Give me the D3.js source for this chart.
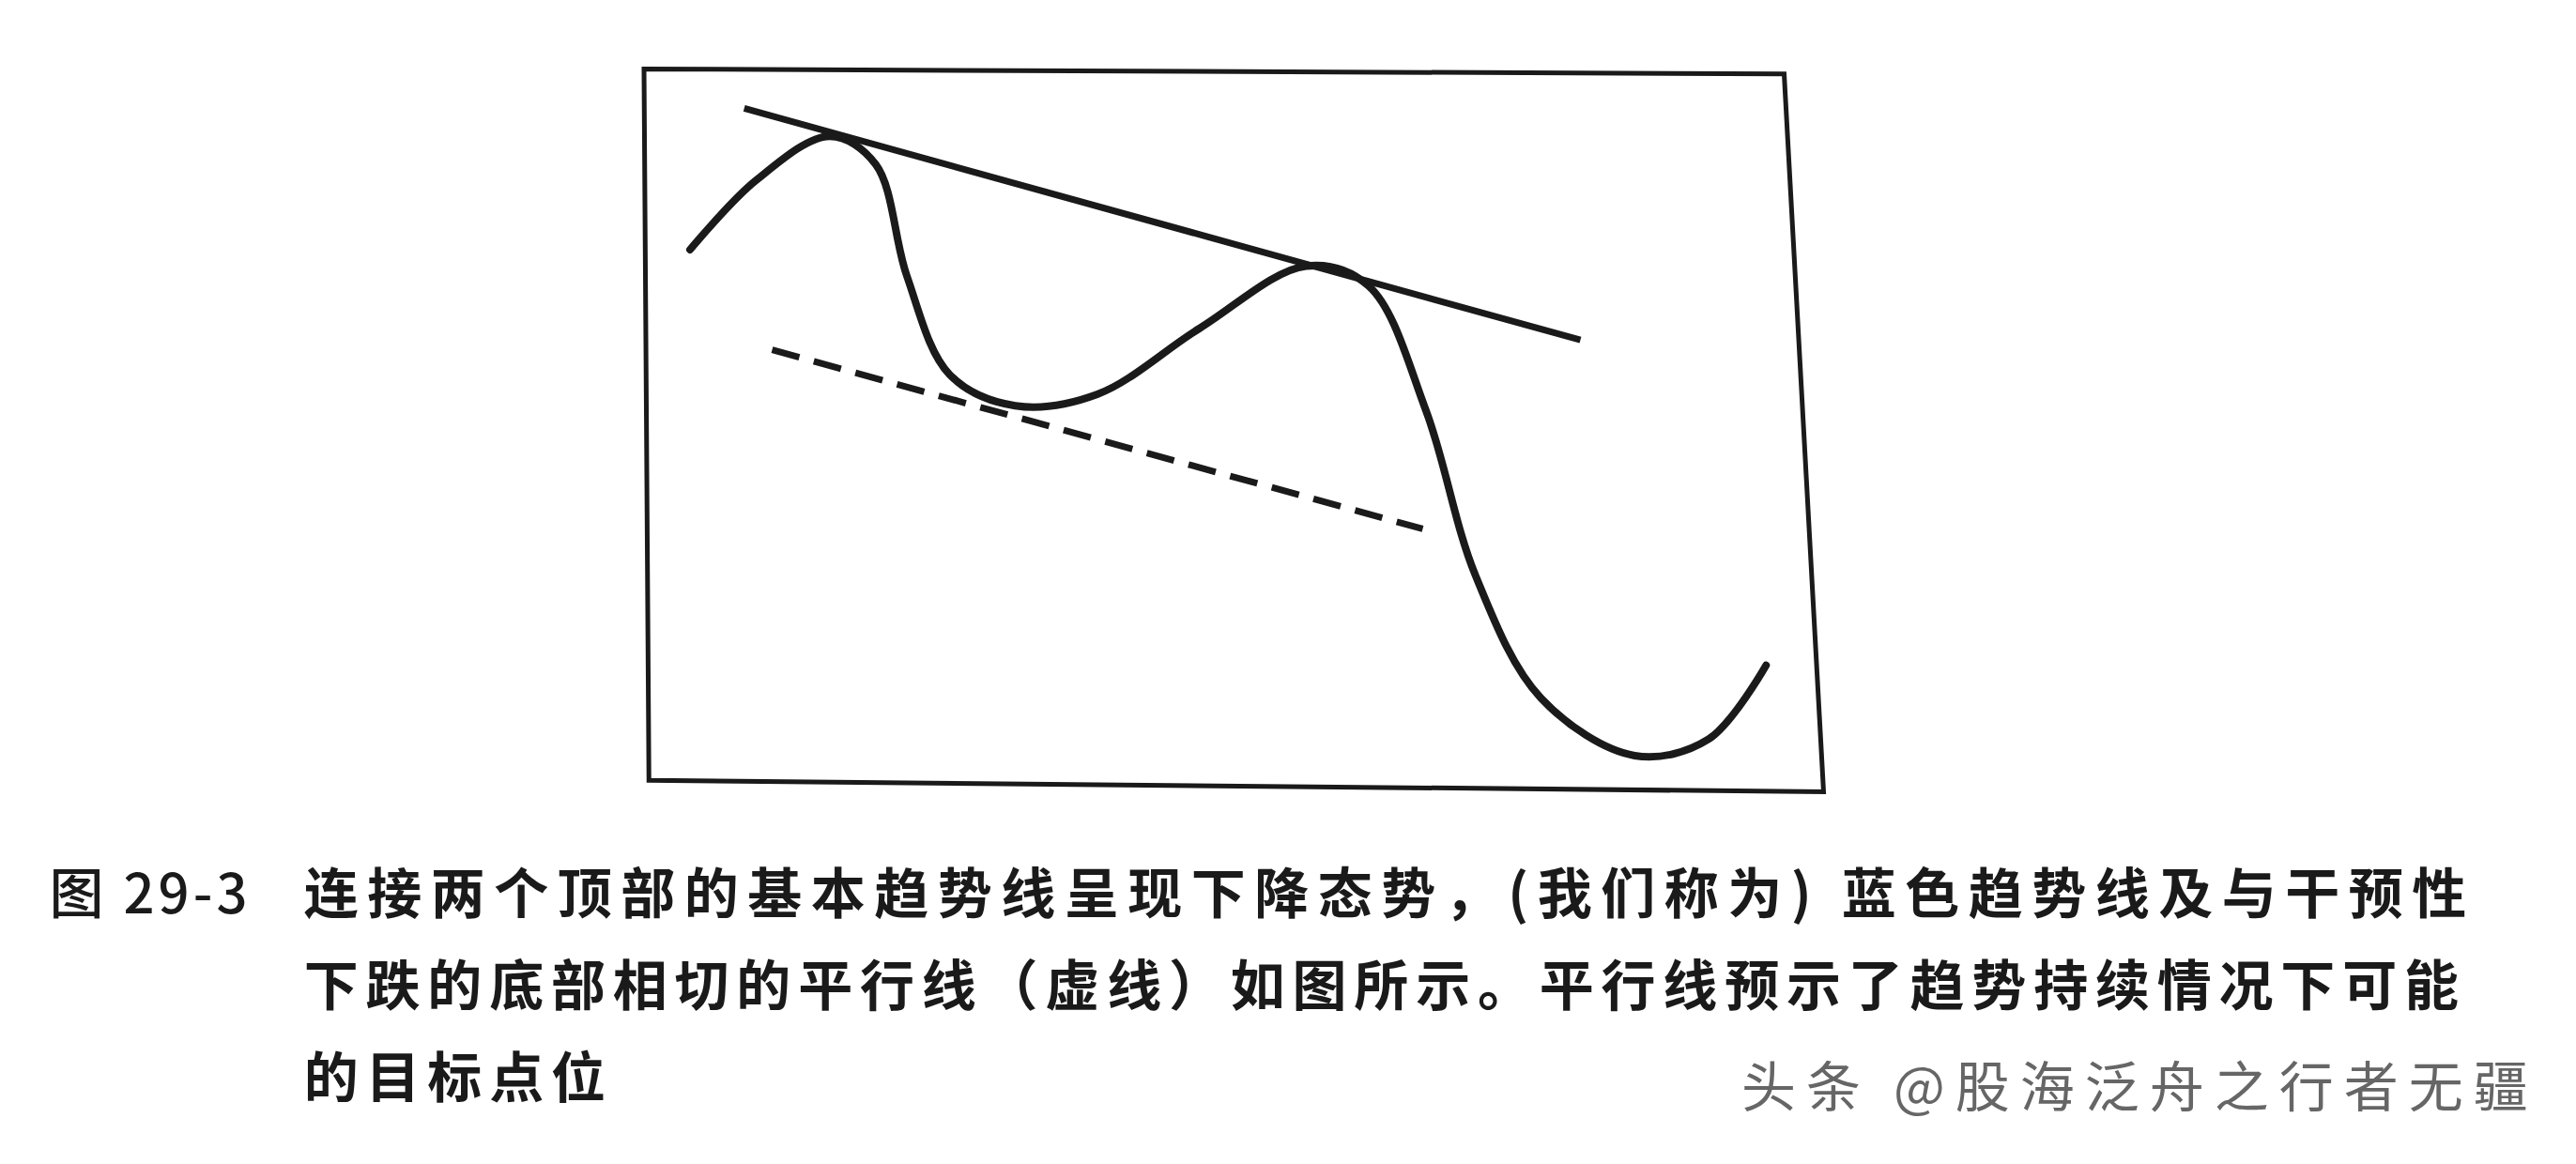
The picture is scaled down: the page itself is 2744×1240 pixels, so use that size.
<!DOCTYPE html>
<html><head><meta charset="utf-8">
<script src="https://cdn.jsdelivr.net/npm/d3@7"></script>
<style>body{margin:0;background:#fff}</style>
</head><body>
<svg id="c" width="2744" height="1240"></svg>
<script>
// values, in reference (1568 wide) units
const curveX = [420, 460, 505, 533, 552, 578, 618, 668, 730, 795, 833, 868, 898, 938, 995, 1040, 1075];
const curveY = [152, 110, 83, 100, 168, 228, 247, 240, 200, 162, 174, 250, 350, 425, 460, 450, 405];
const trendX = [453, 962], trendY = [66, 207];
const dashX = [470, 866], dashY = [213, 322];
const frameX = [392, 1086, 1110, 395], frameY = [42, 45, 482, 475];
const caption = [
  "连接两个顶部的基本趋势线呈现下降态势，(我们称为) 蓝色趋势线及与干预性",
  "下跌的底部相切的平行线（虚线）如图所示。平行线预示了趋势持续情况下可能",
  "的目标点位"
];

const x = d3.scaleLinear().domain([0, 1568]).range([0, 2744]);
const y = d3.scaleLinear().domain([0, 708.6]).range([0, 1240]);
const svg = d3.select("#c");
const line = d3.line().x(d => x(d[0])).y(d => y(d[1]));

svg.append("path").attr("d", line(d3.zip(frameX, frameY)) + "Z")
  .attr("fill", "none").attr("stroke", "#1a1a1a").attr("stroke-width", 5);
svg.append("path").attr("d", line.curve(d3.curveCatmullRom)(d3.zip(curveX, curveY)))
  .attr("fill", "none").attr("stroke", "#1a1a1a").attr("stroke-width", 8).attr("stroke-linecap", "round");
line.curve(d3.curveLinear);
svg.append("path").attr("d", line(d3.zip(trendX, trendY)))
  .attr("stroke", "#1a1a1a").attr("stroke-width", 7);
svg.append("path").attr("d", line(d3.zip(dashX, dashY)))
  .attr("stroke", "#1a1a1a").attr("stroke-width", 7).attr("stroke-dasharray", "30,16");

const font = "'Noto Sans CJK SC', sans-serif";
svg.append("text").attr("x", x(30)).attr("y", y(556)).text("图 29-3")
  .attr("font-family", font).attr("font-size", 58).attr("font-weight", 500)
  .attr("letter-spacing", 4).attr("fill", "#1a1a1a");
svg.selectAll("text.cap").data(caption).join("text").attr("class", "cap")
  .attr("x", x(185)).attr("y", (d, i) => y(556 + i * 56)).text(d => d)
  .attr("font-family", font).attr("font-size", 58).attr("font-weight", 700)
  .attr("letter-spacing", (d, i) => i === 0 ? 9.5 : 7.8).attr("fill", "#1a1a1a");
svg.append("text").attr("x", x(1060)).attr("y", y(674)).text("头条 @股海泛舟之行者无疆")
  .attr("font-family", font).attr("font-size", 58).attr("letter-spacing", 11).attr("fill", "#666");
</script>
</body></html>
